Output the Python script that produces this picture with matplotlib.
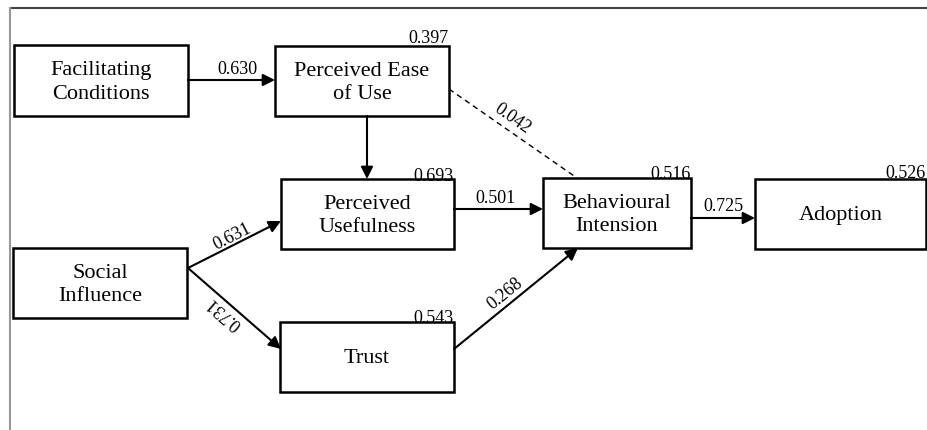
import matplotlib.pyplot as plt

plt.rcParams['font.family'] = ['Liberation Serif', 'DejaVu Serif']

# constructs and their R-squared values
nodes = ['FC', 'PEOU', 'PU', 'SI', 'TR', 'BI', 'AD']
labels = ['Facilitating\nConditions', 'Perceived Ease\nof Use', 'Perceived\nUsefulness',
          'Social\nInfluence', 'Trust', 'Behavioural\nIntension', 'Adoption']
r2 = {'PEOU': '0.397', 'PU': '0.693', 'TR': '0.543', 'BI': '0.516', 'AD': '0.526'}

# structural paths and coefficients
paths_from = ['FC', 'PEOU', 'PEOU', 'PU', 'SI', 'SI', 'TR', 'BI']
paths_to = ['PEOU', 'PU', 'BI', 'BI', 'PU', 'TR', 'BI', 'AD']
coefs = ['0.630', None, '0.042', '0.501', '0.631', '0.731', '0.268', '0.725']

# layout in pixels (x0, y0, x1, y1)
box = {
    'FC': (14, 46, 188, 117),
    'PEOU': (275, 47, 449, 117),
    'PU': (281, 180, 454, 250),
    'SI': (13, 249, 187, 319),
    'TR': (280, 323, 454, 393),
    'BI': (543, 179, 691, 249),
    'AD': (755, 180, 926, 250),
}
r2_dy = {'PEOU': -4, 'PU': 1, 'TR': 0, 'BI': 0, 'AD': -2}

# line end points and label placement (x, y, rotation)
ends = [((188, 81), (275, 81)), ((367, 117), (367, 180)), ((449, 90), (577, 179)),
        ((454, 210), (543, 210)), ((188, 269), (281, 222)), ((188, 269), (281, 350)),
        ((454, 350), (578, 249)), ((691, 219), (755, 219))]
lab_pos = [(237, 70, 0), None, (512, 119, -35), (496, 199, 0), (232, 237, 27),
           (224, 313, 139), (505, 294, 39), (723, 207, 0)]

fig = plt.figure(figsize=(9.27, 4.31), dpi=100)
ax = fig.add_axes([0, 0, 1, 1])
ax.set_xlim(0, 927)
ax.set_ylim(431, 0)
ax.axis('off')

# outer frame (cropped at right and bottom)
ax.plot([10, 927], [9, 9], color='#444444', lw=1.5)
ax.plot([10, 10], [9, 431], color='#999999', lw=1.5)

for n, lab in zip(nodes, labels):
    x0, y0, x1, y1 = box[n]
    ax.add_patch(plt.Rectangle((x0, y0), x1 - x0, y1 - y0, fill=False, lw=1.8, ec='black'))
    ax.text((x0 + x1) / 2, (y0 + y1) / 2 + 1, lab, ha='center', va='center',
            fontsize=16, linespacing=1.35)
    if n in r2:
        ax.text(x1, y0 + r2_dy[n], r2[n], ha='right', va='baseline', fontsize=13)

for (p0, p1), c, lp in zip(ends, coefs, lab_pos):
    if c == '0.042':
        ax.plot([p0[0], p1[0]], [p0[1], p1[1]], color='black', lw=1, ls=(0, (4, 3)))
    else:
        ax.annotate('', xy=p1, xytext=p0,
                    arrowprops=dict(arrowstyle='-|>', mutation_scale=18, lw=1.5,
                                    color='black', shrinkA=0, shrinkB=0))
    if lp is not None:
        ax.text(lp[0], lp[1], c, ha='center', va='center', fontsize=13,
                rotation=lp[2], rotation_mode='anchor')

fig.savefig('out.png', dpi=100)
